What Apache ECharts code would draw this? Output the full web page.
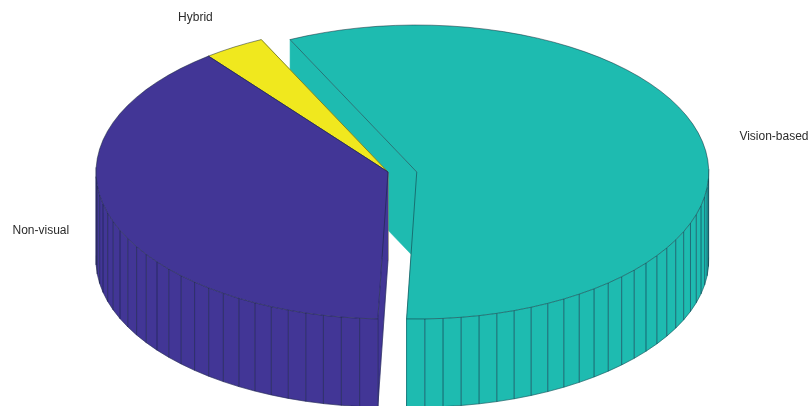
<!DOCTYPE html>
<html>
<head>
<meta charset="utf-8">
<style>html,body{margin:0;padding:0;background:#fff}#chart{width:809px;height:406px}</style>
<script src="https://cdn.jsdelivr.net/npm/echarts@6/dist/echarts.min.js"></script>
</head>
<body>
<div id="chart"></div>
<script>
// Slices in draw order (back to front), running anticlockwise from the front seam.
const categories = ['Vision-based', 'Hybrid', 'Non-visual'];
const shares = [57.7, 3.4, 38.9];
const colors = ['#1ebbb0', '#f0e81e', '#423696'];
const explode = [0.0985, 0, 0];

// Pie geometry, in radius units of the hidden axes.
const SEAM_DEG = 92;
const FACET_DEG = 3.6;
const DEPTH = 0.6;
const LABEL_RADIUS = 1.25;
const LABEL_DROP = 0.014;
const EDGE = 'rgba(18,34,48,0.7)';
const FACET_EDGE = 'rgba(18,30,60,0.42)';

const total = shares.reduce((a, b) => a + b, 0);
const spans = [];
let cursor = SEAM_DEG;
shares.forEach(function (s) {
  const lo = cursor - s / total * 360;
  spans.push([lo, cursor]);
  cursor = lo;
});

function renderSlice(params, api) {
  const i = params.dataIndex;
  const lo = spans[i][0], hi = spans[i][1];
  const off = explode[i];
  const at = function (deg, r, z) {
    const t = deg * Math.PI / 180;
    return api.coord([off + r * Math.cos(t), -r * Math.sin(t) - z]);
  };
  const outlined = { fill: colors[i], stroke: EDGE, lineWidth: 0.7, lineJoin: 'round' };
  const n = Math.ceil((hi - lo) / FACET_DEG);
  const angles = [];
  for (let k = 0; k <= n; k++) angles.push(lo + (hi - lo) * k / n);

  const children = [];
  // Flat walls along both radial cuts; only a cut ending on the near rim gets an edge line
  [lo, hi].forEach(function (a) {
    children.push({ type: 'polygon',
      shape: { points: [at(0, 0, 0), at(a, 1, 0), at(a, 1, DEPTH), at(0, 0, DEPTH)] },
      style: { fill: colors[i], stroke: colors[i], lineWidth: 0.5 } });
    if (Math.sin(a * Math.PI / 180) > 0) {
      children.push({ type: 'polyline',
        shape: { points: [at(a, 1, 0), at(a, 1, DEPTH), at(0, 0, DEPTH)] },
        style: { stroke: EDGE, lineWidth: 0.6, fill: null } });
    }
  });
  // Outer rim on the near side: filled facets, faint joints, darker lower edge
  const near = [];
  for (let k = 0; k < n; k++) {
    const mid = (angles[k] + angles[k + 1]) / 2 * Math.PI / 180;
    if (Math.sin(mid) <= 0) continue;
    near.push(angles[k], angles[k + 1]);
    children.push({ type: 'polygon',
      shape: { points: [at(angles[k], 1, 0), at(angles[k + 1], 1, 0),
                        at(angles[k + 1], 1, DEPTH), at(angles[k], 1, DEPTH)] },
      style: { fill: colors[i], stroke: colors[i], lineWidth: 0.4 } });
  }
  near.forEach(function (a) {
    children.push({ type: 'polyline',
      shape: { points: [at(a, 1, 0), at(a, 1, DEPTH)] },
      style: { stroke: FACET_EDGE, lineWidth: 0.7, fill: null } });
  });
  if (near.length) {
    children.push({ type: 'polyline',
      shape: { points: near.map(function (a) { return at(a, 1, DEPTH); }) },
      style: { stroke: EDGE, lineWidth: 0.6, fill: null } });
  }
  // Top face
  children.push({ type: 'polygon',
    shape: { points: [at(0, 0, 0)].concat(angles.map(function (a) { return at(a, 1, 0); })) },
    style: outlined });
  // Category label just outside the rim, on the slice's middle angle
  const pos = at((lo + hi) / 2, LABEL_RADIUS, LABEL_DROP);
  children.push({
    type: 'text',
    style: { x: pos[0], y: pos[1], text: categories[i], fill: '#2b2b2b',
             font: '12px "Liberation Sans", Arial, sans-serif',
             align: 'center', verticalAlign: 'middle' }
  });
  return { type: 'group', children: children };
}

const chart = echarts.init(document.getElementById('chart'), null, { renderer: 'canvas' });
chart.setOption({
  animation: false,
  backgroundColor: '#ffffff',
  grid: { left: 0, right: 0, top: 0, bottom: 0 },
  xAxis: { type: 'value', min: -1.3288, max: 1.4418, show: false },
  yAxis: { type: 'value', min: -1.5918, max: 1.1701, show: false },
  series: [{
    type: 'custom',
    coordinateSystem: 'cartesian2d',
    clip: false,
    silent: true,
    renderItem: renderSlice,
    encode: { x: 0, y: 1 },
    data: shares.map(function (s, i) { return [i, s]; })
  }]
});
</script>
</body>
</html>
